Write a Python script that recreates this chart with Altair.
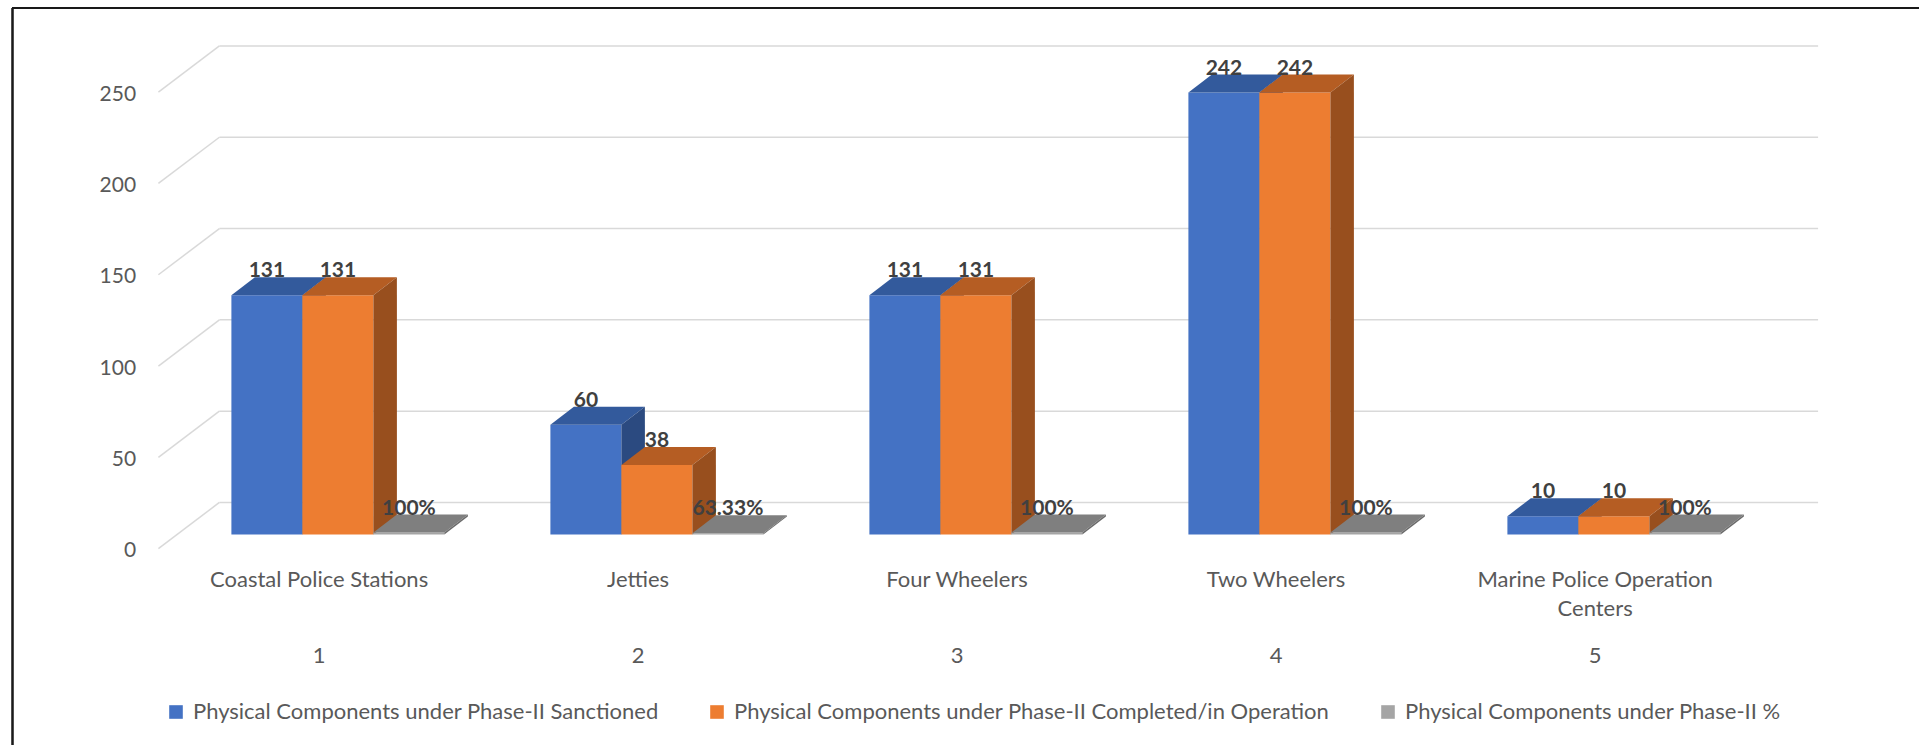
import textwrap

import altair as alt
import pandas as pd

# ---- data -------------------------------------------------------------
categories = [
    "Coastal Police Stations",
    "Jetties",
    "Four Wheelers",
    "Two Wheelers",
    "Marine Police Operation Centers",
]
category_numbers = [1, 2, 3, 4, 5]
sanctioned = [131, 60, 131, 242, 10]
completed = [131, 38, 131, 242, 10]
completion_share = [1.0, 0.6333, 1.0, 1.0, 1.0]
series_names = [
    "Physical Components under Phase-II Sanctioned",
    "Physical Components under Phase-II Completed/in Operation",
    "Physical Components under Phase-II %",
]
y_ticks = [0, 50, 100, 150, 200, 250]

# ---- style -------------------------------------------------------------
front_colors = ["#4472C4", "#ED7D31", "#A5A5A5"]
top_colors = ["#335A9C", "#B55D23", "#7F7F7F"]
side_colors = ["#2B4A80", "#984F1E", "#6B6B6B"]
grid_color = "#D9D9D9"
text_color = "#595959"
label_color = "#404040"
FONT = "Lato"
TEXT_SIZE = 22

# ---- layout (x in category slots, y in value units) --------------------
W, H = 1919, 745
SLOT_PX = 319.0          # pixels per category slot
SLOT_ORIGIN = 0.1        # pixel position of slot 0
UNIT_PX = 1.826          # pixels per value unit
FLOOR_PX = 534.4         # pixel row of value 0 on the bars' front plane

BAR_W = 71.0 / SLOT_PX
GROUP_OFFSET = -87.7 / SLOT_PX
DEPTH_X = 23.5 / SLOT_PX
DEPTH_Y = 18.0 / UNIT_PX

WALL_LIFT = 17.5          # back wall sits this far above the bars' floor
WALL_FRONT_DROP = 7.8     # front end of the floor diagonals
WALL_X0 = 219.3 / SLOT_PX
WALL_X1 = 1818.0 / SLOT_PX
WALL_FRONT_X = 158.3 / SLOT_PX
TICK_LABEL_X = 136.0 / SLOT_PX
TICK_LABEL_DROP = 12.5
NAME_ROW = (FLOOR_PX - 587.3) / UNIT_PX
NUMBER_ROW = (FLOOR_PX - 663.3) / UNIT_PX

x_scale = alt.Scale(domain=[-SLOT_ORIGIN / SLOT_PX, (W - SLOT_ORIGIN) / SLOT_PX],
                    nice=False, zero=False)
y_scale = alt.Scale(domain=[(FLOOR_PX - H) / UNIT_PX, FLOOR_PX / UNIT_PX],
                    nice=False, zero=False)


def fmt_share(p):
    return f"{round(p * 100, 2):g}%"


series_values = [sanctioned, completed, completion_share]
series_labels = [
    [str(v) for v in sanctioned],
    [str(v) for v in completed],
    [fmt_share(p) for p in completion_share],
]

bar_rows, top_rows, side_rows = [], [], []
for s, name in enumerate(series_names):
    for i, (cat, num) in enumerate(zip(categories, category_numbers)):
        v = series_values[s][i]
        xl = num + GROUP_OFFSET + s * BAR_W
        xr = xl + BAR_W
        bar_rows.append(dict(series=name, sidx=s, category=cat, xl=xl, xr=xr,
                             xm=(xl + xr) / 2, base=0.0, v=v,
                             label=series_labels[s][i], label_y=v + DEPTH_Y))
        # top face as an area: lower edge = front/right edge, upper = left/back edge
        for x, lo, hi in [(xl, v, v), (xl + DEPTH_X, v, v + DEPTH_Y),
                          (xr, v, v + DEPTH_Y), (xr + DEPTH_X, v + DEPTH_Y, v + DEPTH_Y)]:
            top_rows.append(dict(sidx=s, category=cat, x=x, lo=lo, hi=hi))
        # right side face
        for x, lo, hi in [(xr, 0.0, v), (xr + DEPTH_X, DEPTH_Y, v + DEPTH_Y)]:
            side_rows.append(dict(sidx=s, category=cat, x=x, lo=lo, hi=hi))

bars = pd.DataFrame(bar_rows)
tops = pd.DataFrame(top_rows)
sides = pd.DataFrame(side_rows)

grid = pd.DataFrame({
    "tick": y_ticks,
    "label": [str(t) for t in y_ticks],
    "wall": [t + WALL_LIFT for t in y_ticks],
    "front": [t - WALL_FRONT_DROP for t in y_ticks],
    "label_y": [t - TICK_LABEL_DROP for t in y_ticks],
    "x0": WALL_X0, "x1": WALL_X1, "xf": WALL_FRONT_X, "xt": TICK_LABEL_X,
})

cats = pd.DataFrame({
    "x": category_numbers,
    "name": [textwrap.fill(c, width=24) for c in categories],
    "number": [str(n) for n in category_numbers],
    "name_y": NAME_ROW,
    "number_y": NUMBER_ROW,
})

X = lambda f: alt.X(f, type="quantitative", scale=x_scale, axis=None)
Y = lambda f: alt.Y(f, type="quantitative", scale=y_scale, axis=None)

legend = alt.Legend(
    title=None, orient="none", legendX=165, legendY=701, direction="horizontal",
    columns=3, columnPadding=47, symbolType="square", symbolSize=185,
    symbolStrokeWidth=0, labelFont=FONT, labelFontSize=TEXT_SIZE, labelColor=text_color,
    labelOffset=6, labelLimit=0, padding=0,
)
color = alt.Color("series:N", scale=alt.Scale(domain=series_names, range=front_colors),
                  legend=legend)

layers = []

# back wall grid and floor diagonals
layers.append(alt.Chart(grid).mark_rule(color=grid_color, strokeWidth=1.5).encode(
    x=X("x0"), x2="x1", y=Y("wall")))
layers.append(alt.Chart(grid).mark_rule(color=grid_color, strokeWidth=1.5).encode(
    x=X("xf"), x2="x0", y=Y("front"), y2="wall"))
layers.append(alt.Chart(grid).mark_text(
    align="right", baseline="alphabetic", font=FONT, fontSize=21, color=text_color
).encode(x=X("xt"), y=Y("label_y"), text="label:N"))

# bars, drawn series by series so nearer faces cover hidden ones
for s in range(len(series_names)):
    b = bars[bars.sidx == s]
    layers.append(alt.Chart(b).mark_rect().encode(
        x=X("xl"), x2="xr", y=Y("base"), y2="v", color=color))
    layers.append(alt.Chart(tops[tops.sidx == s]).mark_area(
        orient="vertical", color=top_colors[s], interpolate="linear"
    ).encode(x=X("x"), y=Y("lo"), y2="hi", detail="category:N"))
    layers.append(alt.Chart(sides[sides.sidx == s]).mark_area(
        orient="vertical", color=side_colors[s], interpolate="linear"
    ).encode(x=X("x"), y=Y("lo"), y2="hi", detail="category:N"))

# value labels
layers.append(alt.Chart(bars).mark_text(
    align="center", baseline="alphabetic", font=FONT, fontSize=21,
    fontWeight="bold", color=label_color
).encode(x=X("xm"), y=Y("label_y"), text="label:N"))

# category names and their numbers
layers.append(alt.Chart(cats).mark_text(
    align="center", baseline="alphabetic", font=FONT, fontSize=TEXT_SIZE,
    color=text_color, lineBreak="\n", lineHeight=28.4
).encode(x=X("x"), y=Y("name_y"), text="name:N"))
layers.append(alt.Chart(cats).mark_text(
    align="center", baseline="alphabetic", font=FONT, fontSize=TEXT_SIZE, color=text_color
).encode(x=X("x"), y=Y("number_y"), text="number:N"))

# chart border (left and top edges)
layers.append(alt.Chart(cats).mark_rule(color="#1A1A1A", strokeWidth=1.5).encode(
    x=alt.value(12.5), y=alt.value(8), y2=alt.value(H)))
layers.append(alt.Chart(cats).mark_rule(color="#1A1A1A", strokeWidth=1.5).encode(
    x=alt.value(12), x2=alt.value(W), y=alt.value(8)))

chart = alt.layer(*layers).properties(
    width=W, height=H, autosize=alt.AutoSizeParams(type="none"), padding=0,
    background="white",
).configure_view(stroke=None)

chart.save("out.html", embed_options={"renderer": "svg", "actions": False})
